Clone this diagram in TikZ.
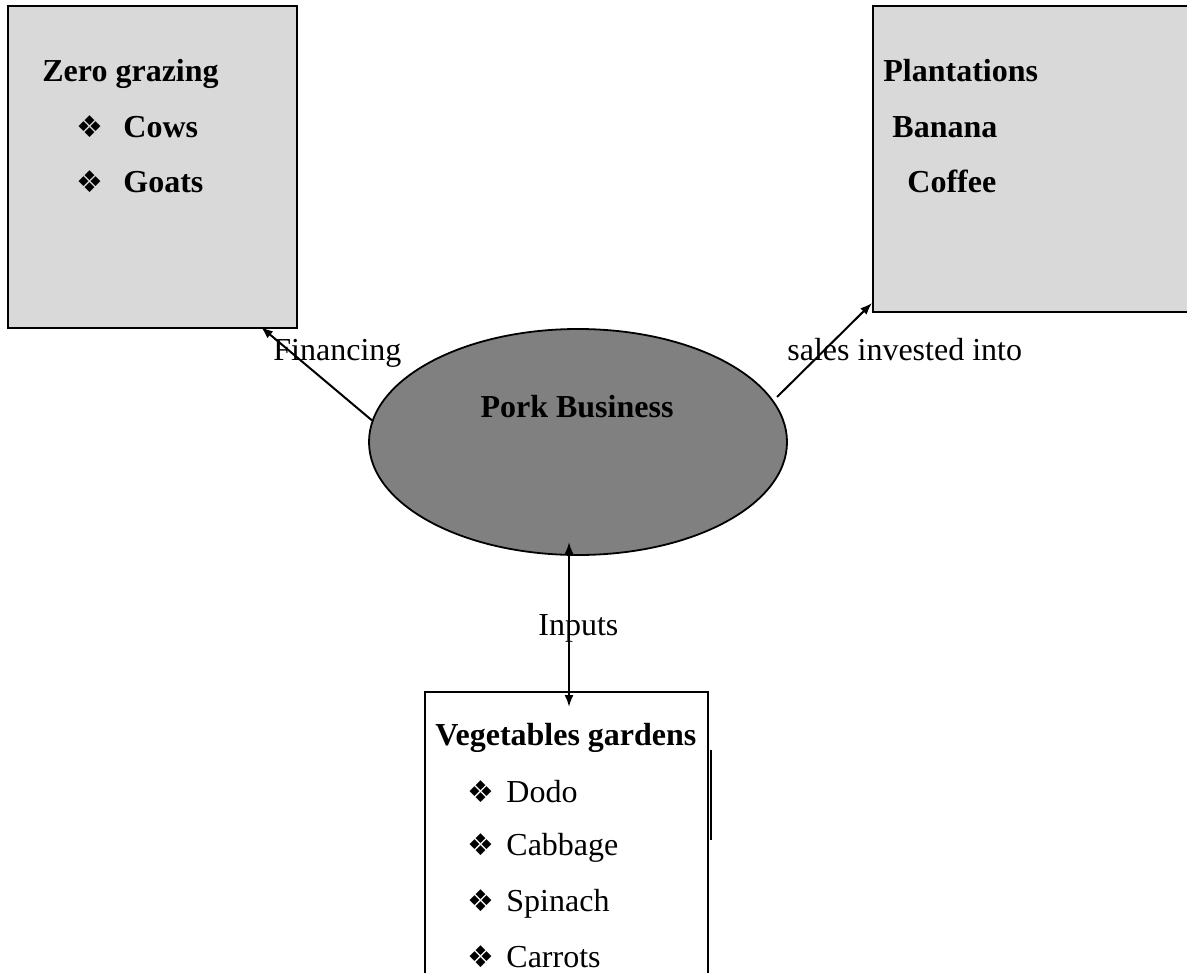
\documentclass[tikz,border=0pt]{standalone}
\usepackage{fontspec}
\setmainfont{Liberation Serif}
\newfontfamily\dingfont{DejaVu Sans}
\newcommand{\diabul}{{\dingfont\fontsize{15}{15}\selectfont ❖}}
\usetikzlibrary{shapes.geometric,arrows.meta}

\begin{document}
\begin{tikzpicture}[x=0.5pt,y=-0.5pt,>={Latex[length=6pt,width=4.5pt]},
    every node/.style={font=\fontsize{16}{19}\selectfont},
    box/.style={draw,line width=1pt,rectangle,inner sep=0pt},
    txt/.style={anchor=base west,inner sep=0pt}]
    \useasboundingbox (0,0) rectangle (1187,973);

    %/ Boxes
    \node[box,fill=black!15,minimum width=144.5pt,minimum height=161pt] (zero) at (152.5,167) {};
    \node[box,fill=black!15,minimum width=161pt,minimum height=153pt] (plant) at (1034,159) {};
    \node[box,minimum width=141.5pt,minimum height=154pt] (veg) at (566.5,846) {};
    \draw[line width=1.2pt] (711,750) -- (711,840);

    %/ Ellipse
    \node[ellipse,draw,line width=0.9pt,fill=black!50,minimum width=209pt,minimum height=113pt] (pork) at (578,442) {};
    \node[txt,anchor=base] (porktxt) at (577,417) {\bfseries Pork Business};

    %/ Zero grazing
    \node[txt] (zerotitle) at (42,82) {\bfseries Zero grazing};
    \foreach \y/\item in {138/Cows,193/Goats} {
        \node[txt] (zerobul\y) at (76,\y) {\diabul};
        \node[txt] (zeroitem\y) at (123,\y) {\bfseries\item};
    }

    %/ Plantations
    \node[txt] (planttitle) at (883,82) {\bfseries Plantations};
    \node[txt] (banana) at (892,138) {\bfseries Banana};
    \node[txt] (coffee) at (907,193) {\bfseries Coffee};

    %/ Vegetables
    \node[txt] (vegtitle) at (435,745) {\bfseries Vegetables gardens};
    \foreach \y/\item in {802/Dodo,855/Cabbage,911/Spinach,967/Carrots} {
        \node[txt] (vegbul\y) at (467,\y) {\diabul};
        \node[txt] (vegitem\y) at (506,\y) {\item};
    }

    %/ Arrows
    \coordinate (fintip) at (261,327);
    \coordinate (salesfoot) at (777,397);
    \coordinate (salestip) at (872,303);
    \coordinate (inup) at (569,542);
    \coordinate (indown) at (569,707);
    \draw[->,line width=1pt] (pork.174) -- (fintip);
    \draw[->,line width=1pt] (salesfoot) -- (salestip);
    \draw[<->,line width=1pt] (inup) -- (indown);

    %/ Labels
    \node[txt] (finlabel) at (273,360) {Financing};
    \node[txt] (saleslabel) at (787,360) {sales invested into};
    \node[txt] (inlabel) at (538,635) {Inputs};
\end{tikzpicture}
\end{document}
